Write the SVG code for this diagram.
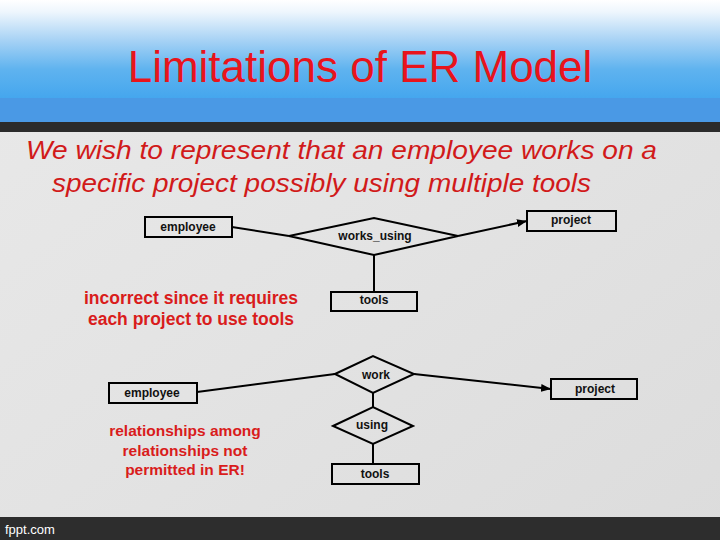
<svg xmlns="http://www.w3.org/2000/svg" width="720" height="540" viewBox="0 0 720 540">
<defs>
<linearGradient id="hdr" x1="0" y1="0" x2="0" y2="1">
<stop offset="0" stop-color="#ffffff"/>
<stop offset="0.12" stop-color="#eef6fd"/>
<stop offset="0.4" stop-color="#a9d3f5"/>
<stop offset="0.7" stop-color="#5fb3ef"/>
<stop offset="1" stop-color="#44a6ee"/>
</linearGradient>
<linearGradient id="body" x1="0" y1="0" x2="1" y2="1">
<stop offset="0" stop-color="#e9e9e9"/>
<stop offset="0.5" stop-color="#e3e3e3"/>
<stop offset="1" stop-color="#dcdcdc"/>
</linearGradient>
<marker id="arr" viewBox="0 0 10 10" refX="10" refY="5" markerWidth="5" markerHeight="5" orient="auto" markerUnits="strokeWidth">
<path d="M0,1 L10,5 L0,9 z" fill="#000"/>
</marker>
<style>
.ent{fill:none;stroke:#000;stroke-width:2}
.rel{fill:none;stroke:#000;stroke-width:2;stroke-linejoin:miter}
.lbl{font-family:"Liberation Sans",Arial,sans-serif;font-size:12px;font-weight:bold;fill:#111;text-anchor:middle}
.con{stroke:#000;stroke-width:2;fill:none}
.note{font-family:"Liberation Sans",Arial,sans-serif;font-weight:bold;fill:#d91c1c;text-anchor:middle}
.sub{font-family:"Liberation Sans",Arial,sans-serif;font-style:italic;font-size:25px;fill:#d11a1a}
</style>
</defs>
<rect x="0" y="0" width="720" height="540" fill="url(#body)"/>
<rect x="0" y="0" width="720" height="99" fill="url(#hdr)"/>
<rect x="0" y="98" width="720" height="24" fill="#4a99e5"/>
<rect x="0" y="122" width="720" height="10" fill="#2b2b2b"/>
<rect x="0" y="517" width="720" height="23" fill="#2d2d2d"/>
<text x="5" y="534" font-family="Liberation Sans,Arial,sans-serif" font-size="13" fill="#ffffff">fppt.com</text>
<text x="360" y="82" font-family="Liberation Sans,Arial,sans-serif" font-size="44" fill="#e8141c" text-anchor="middle">Limitations of ER Model</text>
<text class="sub" x="26" y="159" textLength="631" lengthAdjust="spacingAndGlyphs">We wish to represent that an employee works on  a</text>
<text class="sub" x="52" y="192" textLength="539" lengthAdjust="spacingAndGlyphs">specific project possibly using multiple tools</text>

<g id="connectors">
<line class="con" x1="232" y1="227" x2="289" y2="236"/>
<line class="con" x1="458" y1="236" x2="527" y2="221" marker-end="url(#arr)"/>
<line class="con" x1="374" y1="255" x2="374" y2="292"/>
<line class="con" x1="197" y1="392" x2="335" y2="374"/>
<line class="con" x1="414" y1="374" x2="551" y2="389" marker-end="url(#arr)"/>
<line class="con" x1="373" y1="393" x2="373" y2="407"/>
<line class="con" x1="373" y1="444" x2="373" y2="464"/>
</g>

<g id="employee1">
<rect class="ent" x="145" y="217" width="87" height="20"/>
<text class="lbl" x="188" y="231">employee</text>
</g>
<g id="works_using">
<polygon class="rel" points="289,236 374,218 458,236 374,255"/>
<text class="lbl" x="375" y="240">works_using</text>
</g>
<g id="project1">
<rect class="ent" x="527" y="211" width="89" height="20"/>
<text class="lbl" x="571" y="224">project</text>
</g>
<g id="tools1">
<rect class="ent" x="331" y="292" width="86" height="19"/>
<text class="lbl" x="374" y="304">tools</text>
</g>
<g id="note1">
<text class="note" font-size="17.5" x="191" y="304">incorrect since it requires</text>
<text class="note" font-size="17.5" x="191" y="325">each project to use tools</text>
</g>

<g id="employee2">
<rect class="ent" x="109" y="383" width="88" height="20"/>
<text class="lbl" x="152" y="397">employee</text>
</g>
<g id="work">
<polygon class="rel" points="335,374 373,356 414,374 373,393"/>
<text class="lbl" x="376" y="379">work</text>
</g>
<g id="project2">
<rect class="ent" x="551" y="379" width="86" height="20"/>
<text class="lbl" x="595" y="393">project</text>
</g>
<g id="using">
<polygon class="rel" points="333,426 373,407 413,426 373,444"/>
<text class="lbl" x="372" y="429">using</text>
</g>
<g id="tools2">
<rect class="ent" x="332" y="464" width="87" height="20"/>
<text class="lbl" x="375" y="478">tools</text>
</g>
<g id="note2">
<text class="note" font-size="15.5" x="185" y="436">relationships among</text>
<text class="note" font-size="15.5" x="185" y="456">relationships not</text>
<text class="note" font-size="15.5" x="185" y="475">permitted in ER!</text>
</g>
</svg>
